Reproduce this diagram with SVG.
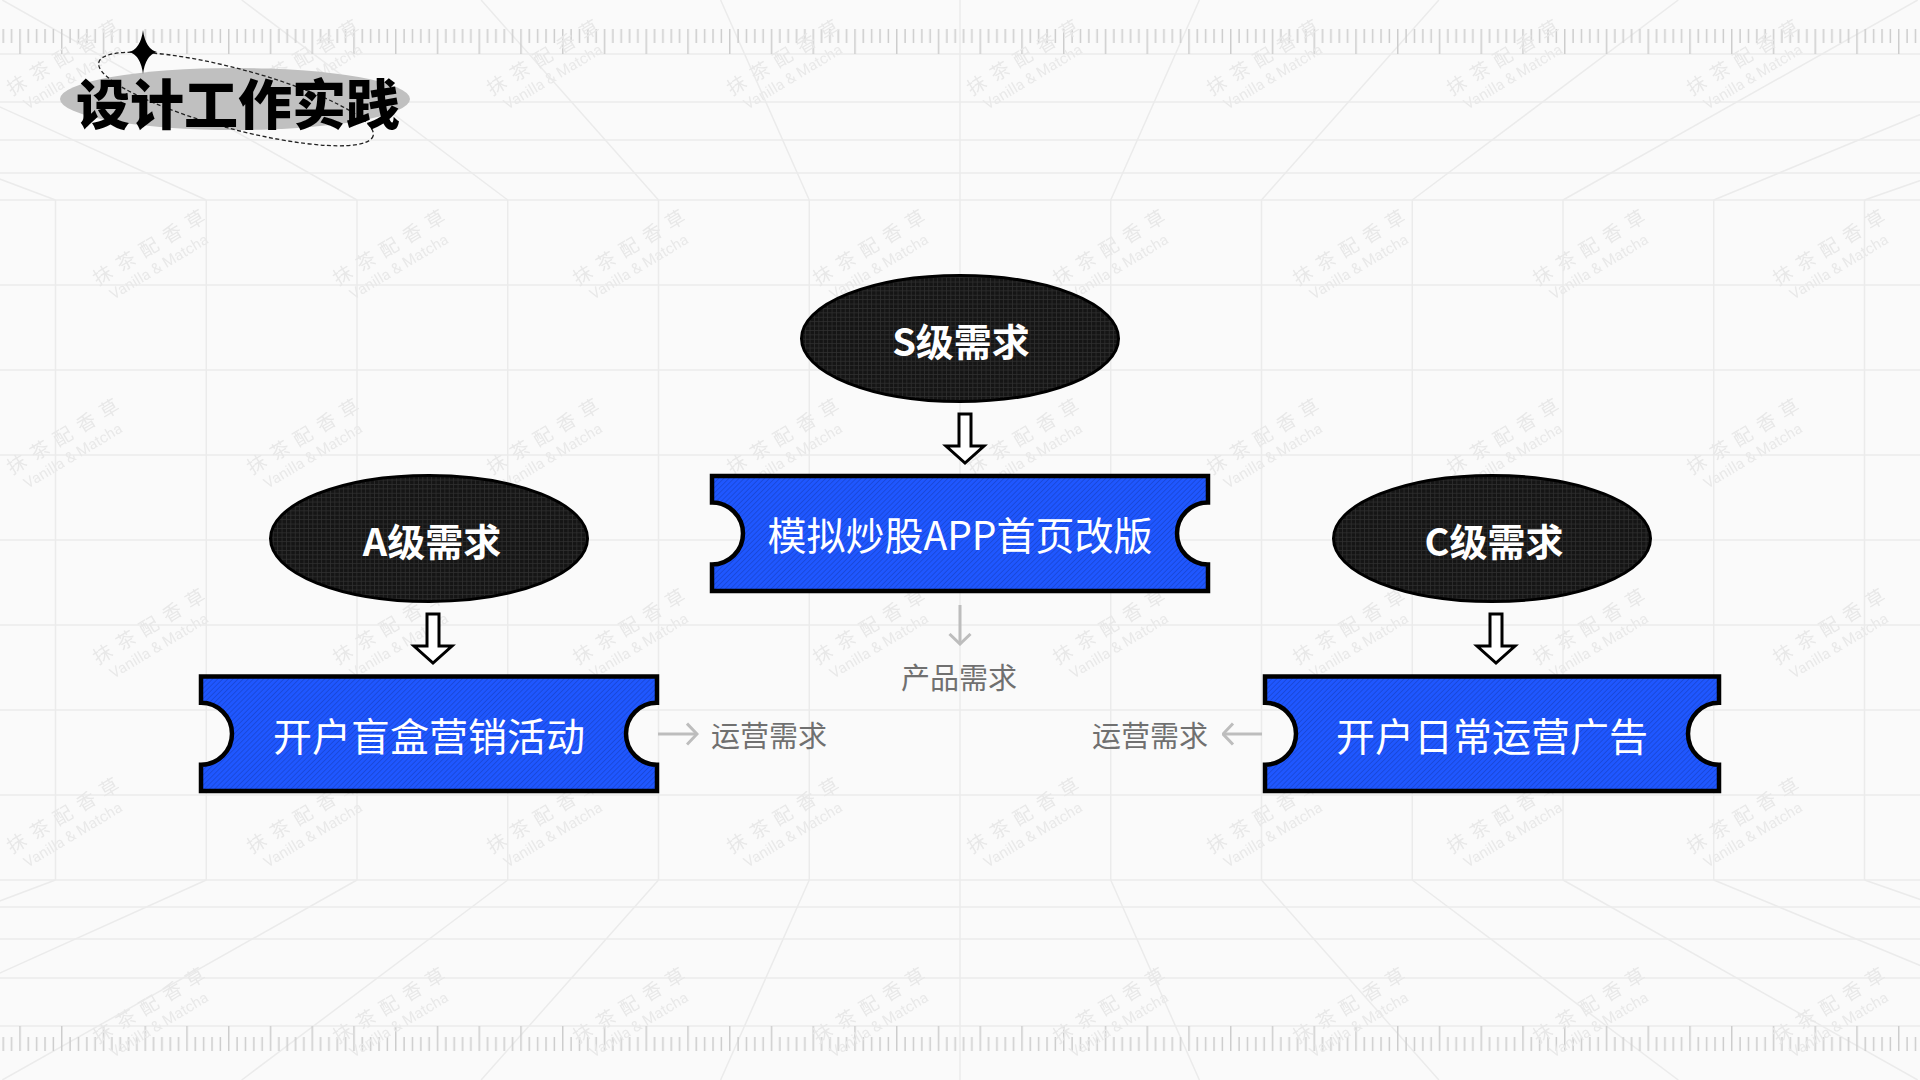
<svg xmlns="http://www.w3.org/2000/svg" width="1920" height="1080" viewBox="0 0 1920 1080">
<style>
.bgline{stroke:#ebebeb;stroke-width:1.5;fill:none}
.tick{fill:#cdcdcd}
.wm1{font-family:"Noto Sans CJK SC","Noto Sans",sans-serif;font-size:19px;letter-spacing:8px;fill:#e8e8e8}
.wm2{font-family:Roboto,"Noto Sans",sans-serif;font-size:15px;fill:#e9e9e9}
.ell{fill:url(#gridfill);stroke:#000;stroke-width:3}
.ticket{fill:url(#stripe);stroke:#000;stroke-width:4.5;stroke-linejoin:miter}
.etxt{font-family:"Noto Sans CJK SC","Noto Sans",sans-serif;font-weight:700;font-size:38px;fill:#fff;text-anchor:middle;dominant-baseline:central}
.ttxt{font-family:"Noto Sans CJK SC","Noto Sans",sans-serif;font-weight:400;font-size:39px;fill:#fff;text-anchor:middle;dominant-baseline:central}
.lbl{font-family:"Noto Sans CJK SC","Noto Sans",sans-serif;font-weight:400;font-size:29px;fill:#707070;text-anchor:middle;dominant-baseline:central}
.blk{fill:#fff;stroke:#000;stroke-width:3;stroke-linejoin:miter}
.gline{stroke:#bdbdbd;stroke-width:3;fill:none}
.title{font-family:"Noto Sans CJK SC","Noto Sans",sans-serif;font-weight:900;font-size:54px;fill:#000;text-anchor:middle;dominant-baseline:central}
</style>
<defs>
<pattern id="gridfill" width="4.4" height="4.4" patternUnits="userSpaceOnUse">
<rect width="4.4" height="4.4" fill="#151515"/>
<path d="M0,0.4H4.4M0.4,0V4.4" stroke="#303030" stroke-width="0.8"/>
</pattern>
<pattern id="stripe" width="3.6" height="3.6" patternUnits="userSpaceOnUse" patternTransform="rotate(45)">
<rect width="3.6" height="3.6" fill="#1f57ff"/>
<rect width="0.9" height="3.6" fill="#1a48d8"/>
</pattern>
<pattern id="rt" x="19.25" y="29" width="41.75" height="25" patternUnits="userSpaceOnUse">
<rect class="tick" x="0" y="0" width="1.5" height="25"/>
<rect class="tick" x="8.35" y="0" width="1.5" height="14"/>
<rect class="tick" x="16.7" y="0" width="1.5" height="14"/>
<rect class="tick" x="25.05" y="0" width="1.5" height="14"/>
<rect class="tick" x="33.4" y="0" width="1.5" height="14"/>
</pattern>
<pattern id="rb" x="19.25" y="1026" width="41.75" height="25" patternUnits="userSpaceOnUse">
<rect class="tick" x="0" y="0" width="1.5" height="25"/>
<rect class="tick" x="8.35" y="11" width="1.5" height="14"/>
<rect class="tick" x="16.7" y="11" width="1.5" height="14"/>
<rect class="tick" x="25.05" y="11" width="1.5" height="14"/>
<rect class="tick" x="33.4" y="11" width="1.5" height="14"/>
</pattern>
<pattern id="wm" width="240" height="379" patternUnits="userSpaceOnUse">
<g transform="translate(12,96) rotate(-31)"><text class="wm1" x="0" y="0">抹茶配香草</text><text class="wm2" x="6" y="20">Vanilla &amp; Matcha</text></g>
<g transform="translate(98,286) rotate(-31)"><text class="wm1" x="0" y="0">抹茶配香草</text><text class="wm2" x="6" y="20">Vanilla &amp; Matcha</text></g>
</pattern>
<marker id="chev" viewBox="0 0 13 24" markerWidth="13" markerHeight="24" refX="11.5" refY="12" orient="auto" markerUnits="userSpaceOnUse">
<path d="M1.5,1.5 L11.5,12 L1.5,22.5" fill="none" stroke="#bdbdbd" stroke-width="3"/>
</marker>
</defs>

<g id="background">
<rect width="1920" height="1080" fill="#fafafa"/>
<path class="bgline" d="M55.5,200V880M206.25,200V880M357,200V880M507.75,200V880M658.5,200V880M809.25,200V880M1110.75,200V880M1261.5,200V880M1412.25,200V880M1563,200V880M1713.75,200V880M1864.5,200V880M960,0V1080"/>
<path class="bgline" d="M0,54H1920M0,102H1920M0,140H1920M0,173H1920M0,200H1920M0,285H1920M0,370H1920M0,455H1920M0,540H1920M0,625H1920M0,710H1920M0,795H1920M0,880H1920M0,907H1920M0,939H1920M0,978H1920M0,1026H1920"/>
<path class="bgline" d="M55.5,200L-476.6,0M206.25,200L-237.1,0M357,200L2.3,0M507.75,200L241.7,0M658.5,200L481.1,0M809.25,200L720.6,0M1110.75,200L1199.4,0M1261.5,200L1438.9,0M1412.25,200L1678.3,0M1563,200L1917.7,0M1713.75,200L2197.1,0M1864.5,200L2436.6,0M55.5,880L-476.6,1080M206.25,880L-237.1,1080M357,880L2.3,1080M507.75,880L241.7,1080M658.5,880L481.1,1080M809.25,880L720.6,1080M1110.75,880L1199.4,1080M1261.5,880L1438.9,1080M1412.25,880L1678.3,1080M1563,880L1917.7,1080M1713.75,880L2197.1,1080M1864.5,880L2436.6,1080"/>
<rect x="0" y="29" width="1920" height="25" fill="url(#rt)"/>
<rect x="0" y="1026" width="1920" height="25" fill="url(#rb)"/>
<rect width="1920" height="1080" fill="url(#wm)"/>
</g>

<g id="title">
<ellipse cx="235" cy="99" rx="175" ry="31" fill="#c0c0c0"/>
<ellipse cx="236" cy="99" rx="142" ry="30" transform="rotate(15 236 99)" fill="none" stroke="#222" stroke-width="1.3" stroke-dasharray="4 2.5"/>
<path d="M143,30 Q145.5,49 157,52 Q145.5,55 143,74 Q140.5,55 129,52 Q140.5,49 143,30 Z" fill="#000"/>
<text class="title" x="238" y="101">设计工作实践</text>
</g>

<g id="connectors">
<path class="blk" d="M959,414 H971 V446 H984 L965,463 L946,446 H959 Z"/>
<path class="blk" d="M427,614 H439 V646 H452 L433,663 L414,646 H427 Z"/>
<path class="blk" d="M1490,614 H1502 V646 H1515 L1496,663 L1477,646 H1490 Z"/>
<line class="gline" x1="960" y1="605" x2="960" y2="644" marker-end="url(#chev)"/>
<line class="gline" x1="658" y1="734" x2="697" y2="734" marker-end="url(#chev)"/>
<line class="gline" x1="1262" y1="734" x2="1223" y2="734" marker-end="url(#chev)"/>
<text class="lbl" x="959" y="676">产品需求</text>
<text class="lbl" x="769" y="734">运营需求</text>
<text class="lbl" x="1150" y="734">运营需求</text>
</g>

<g id="node-s-level">
<ellipse class="ell" cx="960" cy="338.5" rx="158.5" ry="63"/>
<text class="etxt" x="961" y="339">S级需求</text>
</g>
<g id="node-a-level">
<ellipse class="ell" cx="429" cy="538.5" rx="158.5" ry="63"/>
<text class="etxt" x="432" y="539">A级需求</text>
</g>
<g id="node-c-level">
<ellipse class="ell" cx="1492" cy="538.5" rx="158.5" ry="63"/>
<text class="etxt" x="1494" y="539">C级需求</text>
</g>
<g id="node-s-project">
<path class="ticket" d="M712,476 H1208 V502.5 A31,31 0 0 0 1208,564.5 V591 H712 V564.5 A31,31 0 0 0 712,502.5 Z"/>
<text class="ttxt" x="960" y="533">模拟炒股APP首页改版</text>
</g>
<g id="node-a-project">
<path class="ticket" d="M201,676.5 H657 V702.75 A31,31 0 0 0 657,764.75 V791 H201 V764.75 A31,31 0 0 0 201,702.75 Z"/>
<text class="ttxt" x="429" y="733.5">开户盲盒营销活动</text>
</g>
<g id="node-c-project">
<path class="ticket" d="M1265,676.5 H1719 V702.75 A31,31 0 0 0 1719,764.75 V791 H1265 V764.75 A31,31 0 0 0 1265,702.75 Z"/>
<text class="ttxt" x="1492" y="733.5">开户日常运营广告</text>
</g>
</svg>
